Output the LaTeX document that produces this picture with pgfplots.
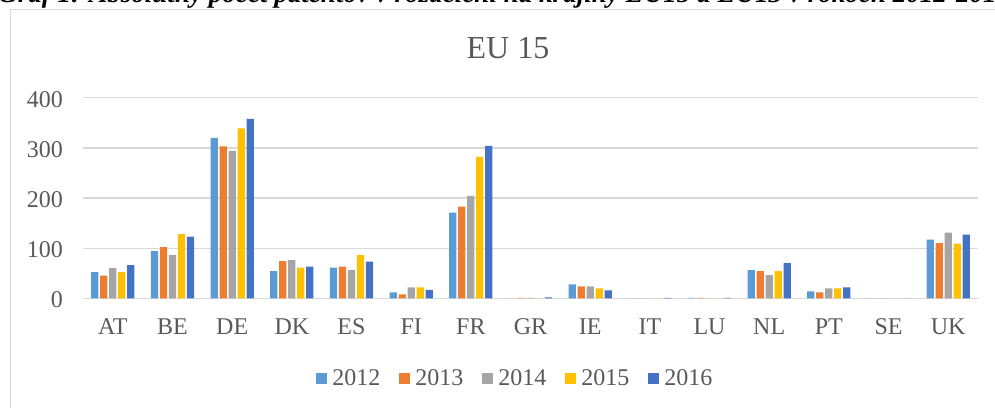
\documentclass[border=0pt]{standalone}
\usepackage{fontspec}
\setmainfont{Liberation Serif}
\usepackage{pgfplots}
\pgfplotsset{compat=1.18}
\definecolor{cA}{HTML}{5B9BD5}
\definecolor{cB}{HTML}{ED7D31}
\definecolor{cC}{HTML}{A5A5A5}
\definecolor{cD}{HTML}{FFC000}
\definecolor{cE}{HTML}{4472C4}
\definecolor{gridc}{HTML}{D9D9D9}
\definecolor{txt}{HTML}{595959}
\begin{document}
\begin{tikzpicture}[x=1pt,y=1pt]
\useasboundingbox (0,0) rectangle (995,-407);
\node[anchor=base west, inner sep=0pt] at (-2,-2.5) {\resizebox{1012pt}{!}{\fontsize{24}{24}\selectfont\bfseries\itshape Graf 1: Absolútny počet patentov v rozdelení na krajiny EU15 a EU13 v rokoch 2012-2016}};
\draw[gridc, line width=1.5pt] (10.5,-420) -- (10.5,-9.5) -- (1010,-9.5);
\node[anchor=base, inner sep=0pt, text=txt, font=\fontsize{32}{32}\selectfont] at (508,-58.3) {EU 15};
\begin{axis}[
  at={(83pt,-298.3pt)}, anchor=south west,
  scale only axis, width=895pt, height=200.6pt,
  xmin=-0.5, xmax=14.5, ymin=0, ymax=400,
  ybar=1.8pt, bar width=7.2pt,
  legend image code/.code={\fill[#1,draw=none] (0pt,-5.5pt) rectangle (11pt,5.5pt);},
  axis line style={draw=none},
  major tick length=0pt,
  ymajorgrids, grid style={gridc, line width=1.3pt},
  ytick={0,100,200,300,400},
  xtick={0,...,14},
  xticklabels={AT,BE,DE,DK,ES,FI,FR,GR,IE,IT,LU,NL,PT,SE,UK},
  /pgf/number format/assume math mode=true,
  yticklabel style={font=\fontsize{24}{24}\selectfont, text=txt, anchor=base east, inner sep=0pt, xshift=-20pt, yshift=-9.3pt},
  xticklabel style={font=\fontsize{24}{24}\selectfont, text=txt, anchor=base, inner sep=0pt, yshift=-36pt},
  legend columns=5,
  legend style={at={(0.482,0)}, anchor=center, yshift=-80pt, draw=none, fill=none, inner sep=0pt,
    font=\fontsize{24}{24}\selectfont, text=txt, nodes={inner sep=0pt},
    /tikz/every odd column/.append style={column sep=5pt},
    /tikz/every even column/.append style={column sep=19pt}},
]
\addplot[fill=cA, draw=none] coordinates {(0,52) (1,94) (2,320) (3,54) (4,61) (5,12) (6,171) (7,0) (8,28) (9,0) (10,1) (11,56) (12,14) (13,0) (14,117)};
\addplot[fill=cB, draw=none] coordinates {(0,45) (1,102) (2,303) (3,74) (4,63) (5,8) (6,183) (7,1) (8,24) (9,0) (10,1) (11,54) (12,12) (13,0) (14,110)};
\addplot[fill=cC, draw=none] coordinates {(0,60) (1,86) (2,294) (3,76) (4,56) (5,22) (6,204) (7,1) (8,24) (9,0) (10,0) (11,46) (12,20) (13,0) (14,131)};
\addplot[fill=cD, draw=none] coordinates {(0,52) (1,128) (2,339) (3,61) (4,86) (5,22) (6,282) (7,0) (8,20) (9,0) (10,0) (11,54) (12,20) (13,0) (14,109)};
\addplot[fill=cE, draw=none] coordinates {(0,66) (1,123) (2,358) (3,63) (4,73) (5,17) (6,304) (7,2) (8,16) (9,1) (10,1) (11,70) (12,22) (13,0) (14,127)};
\legend{2012,2013,2014,2015,2016}
\end{axis}
\end{tikzpicture}
\end{document}
